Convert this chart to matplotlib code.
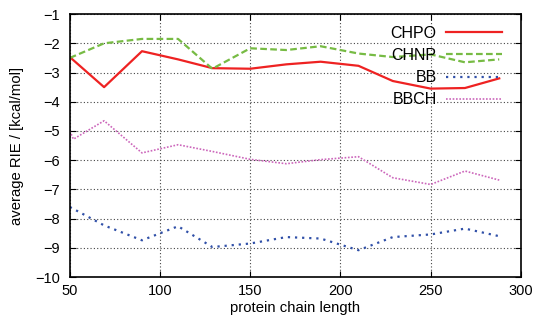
import matplotlib
matplotlib.use("Agg")
import matplotlib.pyplot as plt

plt.rcParams['font.family'] = ['Liberation Sans', 'DejaVu Sans']

# chain lengths
x = [50, 69, 90, 110, 129, 150, 170, 189, 210, 229, 250, 269, 288]
x_bbch = [50, 52, 69, 90, 110, 129, 150, 170, 189, 210, 229, 250, 269, 288]

chpo = [-2.47, -3.5, -2.27, -2.55, -2.85, -2.87, -2.72, -2.63, -2.77, -3.29, -3.55, -3.53, -3.2]
chnp = [-2.5, -2.0, -1.85, -1.85, -2.87, -2.17, -2.23, -2.1, -2.35, -2.47, -2.38, -2.65, -2.55]
bb = [-7.6, -8.23, -8.74, -8.26, -8.97, -8.85, -8.63, -8.68, -9.08, -8.63, -8.54, -8.34, -8.6]
bbch = [-5.0, -5.28, -4.65, -5.75, -5.47, -5.7, -5.97, -6.12, -5.98, -5.88, -6.6, -6.83, -6.37, -6.68]

fig = plt.figure(figsize=(5.37, 3.2), dpi=100)
ax = fig.add_axes([0.130, 0.134, 0.840, 0.822])

ax.plot(x, chpo, color='#ee2222', lw=1.6, label='CHPO')
ax.plot(x, chnp, color='#77bb44', lw=1.6, ls=(0, (3, 1.5)), label='CHNP')
ax.plot(x, bb, color='#3050a8', lw=1.6, ls=(0, (1, 2.2)), label='BB')
ax.plot(x_bbch, bbch, color='#cc66bb', lw=1.2, ls=(0, (1, 1)), label='BBCH')

ax.set_xlim(50, 300)
ax.set_ylim(-10, -1)
ax.set_xticks([50, 100, 150, 200, 250, 300])
ax.set_yticks(range(-10, 0))
ax.grid(True, color='#444444', ls=(0, (1, 2)), lw=0.8)
ax.tick_params(direction='in', top=True, right=True, labelsize=10.5, length=4, pad=7)
ax.tick_params(axis='x', pad=5)
for s in ax.spines.values():
    s.set_linewidth(1.2)

ax.set_xlabel('protein chain length', fontsize=10.7, labelpad=2)
ax.set_ylabel('average RIE / [kcal/mol]', fontsize=10.7, labelpad=8)

ax.legend(loc='upper right', frameon=False, markerfirst=False, fontsize=11.5,
          handlelength=3.5, handletextpad=0.6, labelspacing=0.45,
          bbox_to_anchor=(0.99, 1.01))

fig.savefig('out.png', dpi=100)
